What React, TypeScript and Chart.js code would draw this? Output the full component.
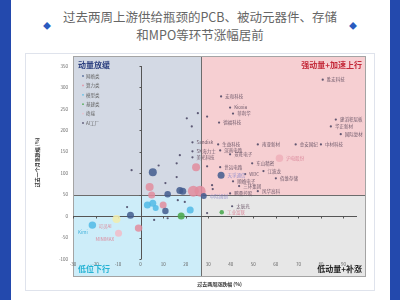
import { useEffect, useRef } from "react";
import { Chart, registerables } from "chart.js";

Chart.register(...registerables);

const FONT = "'Noto Sans CJK SC', 'Noto Sans', sans-serif";

const TITLE_LINES = ["过去两周上游供给瓶颈的PCB、被动元器件、存储", "和MPO等环节涨幅居前"];
const X_TITLE = "过去两周涨跌幅 (%)";
const Y_TITLE = "过去一个月涨跌幅 (%)";
const X_MIN = -30;
const X_MAX = 100;
const Y_MIN = -100;
const Y_MAX = 350;
const X_STEP = 10;
const Y_STEP = 50;
const X_SPLIT = 27;
const Y_SPLIT = 50;
const QUADRANT_LABELS = ["动量放缓", "强动量+加速上行", "低位下行", "低动量+补涨"];
const SERIES_NAMES = ["网络类", "算力类", "模型类", "基建类", "终端", "AI工厂"];

// [name, 2-week change %, 1-month change %, weight]
type Pt = [string, number, number, number];

const networkPts: Pt[] = [
  ["", 5.4, 102, 64],
  ["", 17.4, 60, 49],
  ["", 18.7, 58, 49],
  ["", 12, 51, 42],
  ["中际旭创", 28, 47, 36],
  ["", -4.5, 2, 49],
  ["", 11, 12, 42],
  ["天孚通信", 35.7, 95, 49],
];

const computePts: Pt[] = [
  ["", 23.4, 58, 121],
  ["", 26.4, 58, 121],
  ["", 4, 68, 64],
  ["", 4.9, 49, 49],
  ["", 24.6, 114, 64],
  ["", 10, 26, 49],
  ["", -0.9, -28, 56],
];

const modelPts: Pt[] = [
  ["Kimi", -21.4, -21, 56],
  ["", 3, 26, 49],
  ["", 5.4, 30, 49],
  ["", 6.7, 19, 36],
  ["", 22, 14, 49],
];

const infraPts: Pt[] = [
  ["", 18, 0, 49],
  ["工业富联", 36, 9, 20],
];

const devicePts: Pt[] = [
  ["MINIMAX", -9.8, -40, 49],
  ["沪电股份", 61.6, 135, 56],
  ["可灵AI", -10.7, -7, 64],
];

const factoryPts: Pt[] = [
  ["胜宏科技", 80.8, 318, 5],
  ["宏和科技", 35.7, 279, 5],
  ["Kioxia", 39.7, 253, 5],
  ["菲利华", 41, 239, 5],
  ["德福科技", 34.8, 218, 5],
  ["建滔积层板", 86.6, 225, 5],
  ["华正新材", 84.4, 209, 5],
  ["国际复材", 88.8, 191, 5],
  ["生益科技", 34.4, 167, 5],
  ["南亚新材", 52, 167, 5],
  ["金安国纪", 68.8, 167, 5],
  ["中材科技", 80, 167, 5],
  ["深南电路", 35.3, 153, 5],
  ["景旺电子", 39.7, 144, 5],
  ["世运电路", 35.3, 114, 5],
  ["东山精密", 49.5, 123, 5],
  ["WDC", 46.4, 98, 5],
  ["江波龙", 54.5, 105, 5],
  ["佰维存储", 60, 88, 5],
  ["顺络电子", 41, 81, 5],
  ["三环集团", 43.7, 70, 5],
  ["鹏鼎控股", 39.7, 53, 5],
  ["风华高科", 52, 58, 5],
  ["太辰光", 40.6, 23, 5],
  ["Sandisk", 23, 172, 5],
  ["SK海力士", 23, 151, 5],
  ["美光科技", 23, 137, 5],
  ["", 20.5, 228, 5],
  ["", 25.4, 240, 5],
  ["", 22.7, 209, 5],
  ["", -4, 107, 5],
  ["", 16, 123, 5],
  ["", 17.4, 142, 5],
  ["", 16, 91, 5],
  ["", 11, 77, 5],
  ["", 8, 118, 5],
  ["", 16.5, 37, 5],
  ["", 29.5, 232, 5],
  ["", 29.5, 116, 5],
  ["", 29.5, 7, 5],
  ["", 31.7, 72, 5],
  ["", 32, 63, 5],
  ["", -6, 21, 5],
  ["", 6, -9, 5],
  ["", 19.6, 33, 5],
  ["", 12, -5, 5],
];

const LEFT_LABELS = new Set(["MINIMAX", "可灵AI", "Kimi"]);

const radius = (w: number) => Math.sqrt(w) / 2;

const SERIES = [
  { pts: networkPts, fill: "rgba(66,92,142,0.85)", text: "#9a93cc" },
  { pts: computePts, fill: "rgba(226,140,158,0.85)", text: "#dc8a9c" },
  { pts: modelPts, fill: "rgba(80,186,230,0.85)", text: "#3fb0d9" },
  { pts: infraPts, fill: "rgba(76,168,80,0.9)", text: "#dc8a9c" },
  { pts: devicePts, fill: ["rgba(240,190,202,0.9)", "rgba(240,176,186,0.9)", "rgba(240,236,176,0.9)"], text: "#dc8a9c" },
  { pts: factoryPts, fill: "rgba(70,66,96,0.85)", text: "#6f5a6b" },
];

const quadrantPlugin = {
  id: "quadrants",
  beforeDraw(chart: any) {
    const { ctx, chartArea: a, scales } = chart;
    const x = scales.x;
    const y = scales.y;
    const top = a.top - 10;
    const bottom = a.bottom + 18;
    const left = a.left;
    const right = a.right;
    const sx = Math.round(x.getPixelForValue(X_SPLIT)) + 0.5;
    const sy = Math.round(y.getPixelForValue(Y_SPLIT)) + 0.5;
    ctx.save();
    ctx.fillStyle = "#d3d9e4";
    ctx.fillRect(left, top, sx - left, sy - top);
    ctx.fillStyle = "#f6cfd2";
    ctx.fillRect(sx, top, right - sx, sy - top);
    ctx.fillStyle = "#cdedf9";
    ctx.fillRect(left, sy, sx - left, bottom - sy);
    ctx.fillStyle = "#e7e7e7";
    ctx.fillRect(sx, sy, right - sx, bottom - sy);
    ctx.strokeStyle = "#6c6c6c";
    ctx.lineWidth = 1;
    ctx.beginPath();
    ctx.moveTo(left, sy);
    ctx.lineTo(right, sy);
    ctx.moveTo(sx, top);
    ctx.lineTo(sx, bottom);
    ctx.stroke();
    ctx.strokeStyle = "#a4a4a4";
    ctx.strokeRect(left + 0.5, top + 0.5, right - left - 1, bottom - top - 1);
    ctx.restore();
  },
  beforeDatasetsDraw(chart: any) {
    const { ctx, chartArea: a, scales } = chart;
    const x = scales.x;
    const y = scales.y;
    const x0 = Math.round(x.getPixelForValue(0)) + 0.5;
    const y0 = Math.round(y.getPixelForValue(0)) + 0.5;
    ctx.save();
    ctx.strokeStyle = "#555";
    ctx.lineWidth = 1;
    ctx.beginPath();
    ctx.moveTo(x0, y.getPixelForValue(Y_MAX));
    ctx.lineTo(x0, y.getPixelForValue(Y_MIN));
    ctx.moveTo(a.left, y0);
    ctx.lineTo(a.right - 9, y0);
    for (let v = Y_MIN; v <= Y_MAX; v += Y_STEP) {
      const py = Math.round(y.getPixelForValue(v)) + 0.5;
      ctx.moveTo(x0 - 2, py);
      ctx.lineTo(x0, py);
    }
    for (let v = X_MIN; v < X_MAX; v += X_STEP) {
      const px = Math.round(x.getPixelForValue(v)) + 0.5;
      ctx.moveTo(px, y0);
      ctx.lineTo(px, y0 + 2);
    }
    ctx.stroke();
    ctx.restore();
  },
  afterDatasetsDraw(chart: any) {
    const { ctx } = chart;
    ctx.save();
    ctx.font = `4.5px ${FONT}`;
    ctx.textBaseline = "middle";
    chart.data.datasets.forEach((ds: any, i: number) => {
      const meta = chart.getDatasetMeta(i);
      ds.data.forEach((d: any, j: number) => {
        const name = ds.names[j];
        if (!name) return;
        const el = meta.data[j];
        const r = d.r;
        ctx.fillStyle = ds.labelColor;
        if (LEFT_LABELS.has(name)) {
          ctx.textAlign = "right";
          ctx.fillText(name, el.x - r - 1, el.y + r + 3);
        } else {
          ctx.textAlign = "left";
          ctx.fillText(name, el.x + r + 3, el.y);
        }
      });
    });
    ctx.restore();
  },
  afterDraw(chart: any) {
    const { ctx, chartArea: a } = chart;
    const top = a.top - 10;
    const bottom = a.bottom + 18;
    ctx.save();
    ctx.font = `bold 8px ${FONT}`;
    ctx.textBaseline = "middle";
    ctx.textAlign = "left";
    ctx.fillStyle = "#2b3f7f";
    ctx.fillText(QUADRANT_LABELS[0], a.left + 5, top + 9);
    ctx.textAlign = "right";
    ctx.fillStyle = "#c42a3a";
    ctx.fillText(QUADRANT_LABELS[1], a.right - 4, top + 9);
    ctx.textAlign = "left";
    ctx.fillStyle = "#26b3d4";
    ctx.fillText(QUADRANT_LABELS[2], a.left + 5, bottom - 8);
    ctx.textAlign = "right";
    ctx.fillStyle = "#222";
    ctx.fillText(QUADRANT_LABELS[3], a.right - 4, bottom - 8);

    // series key in the upper-left quadrant
    ctx.font = `4.5px ${FONT}`;
    ctx.textAlign = "left";
    chart.data.datasets.forEach((ds: any, i: number) => {
      const ly = a.top + 10 + i * 9.4;
      const c = Array.isArray(ds.backgroundColor) ? ds.backgroundColor[0] : ds.backgroundColor;
      ctx.fillStyle = c;
      ctx.beginPath();
      ctx.arc(a.left + 10, ly, 0.9, 0, Math.PI * 2);
      ctx.fill();
      ctx.fillStyle = "#666";
      ctx.fillText(ds.label, a.left + 13, ly);
    });
    ctx.restore();
  },
};

export default function App() {
  const ref = useRef<HTMLCanvasElement>(null);

  useEffect(() => {
    if (!ref.current) return;
    const chart = new Chart(ref.current, {
      type: "bubble",
      data: {
        datasets: SERIES.map((s, i) => ({
          label: SERIES_NAMES[i],
          names: s.pts.map((p) => p[0]),
          labelColor: s.text,
          data: s.pts.map((p) => ({ x: p[1], y: p[2], r: radius(p[3]) })),
          backgroundColor: s.fill,
          borderWidth: 0,
        })) as any,
      },
      options: {
        responsive: false,
        devicePixelRatio: 1,
        animation: false,
        layout: { padding: { top: 12, right: 8, left: 0, bottom: 0 } },
        plugins: { legend: { display: false }, tooltip: { enabled: false } },
        scales: {
          x: {
            type: "linear",
            min: X_MIN,
            max: X_MAX,
            afterFit: (s: any) => {
              s.height = 31;
            },
            grid: { display: false, drawTicks: false },
            border: { display: false },
            ticks: {
              stepSize: X_STEP,
              padding: 3,
              color: "#666",
              font: { size: 4.5, family: FONT },
              callback: (v: any) => (v === X_MAX ? "" : String(v)),
            },
            title: {
              display: true,
              text: X_TITLE,
              color: "#333",
              font: { size: 5, weight: "bold", family: FONT },
              padding: { top: 0, bottom: 3 },
            },
          },
          y: {
            type: "linear",
            min: Y_MIN,
            max: Y_MAX,
            afterFit: (s: any) => {
              s.width = 47;
            },
            grid: { display: false, drawTicks: false },
            border: { display: false },
            ticks: {
              stepSize: Y_STEP,
              padding: 5,
              color: "#666",
              font: { size: 4.5, family: FONT },
            },
            title: {
              display: true,
              text: Y_TITLE,
              color: "#333",
              font: { size: 5, weight: "bold", family: FONT },
              padding: { top: 8, bottom: 0 },
            },
          },
        },
      },
      plugins: [quadrantPlugin],
    } as any);
    return () => chart.destroy();
  }, []);

  const icon = (left: number) => (
    <div
      style={{
        position: "absolute",
        left: left - 4,
        top: 22,
        width: 8,
        height: 8,
        color: "#2a5bbf",
        fontSize: 8,
        lineHeight: "8px",
        textAlign: "center",
      }}
    >
      ◆
    </div>
  );

  return (
    <div
      style={{
        position: "fixed",
        left: 0,
        top: 0,
        width: 400,
        height: 300,
        background: "#fff",
        overflow: "hidden",
        fontFamily: FONT,
      }}
    >
      <div style={{ position: "absolute", left: 0, top: 0, width: 11, height: 300, background: "#2349ad" }} />
      <div style={{ position: "absolute", left: 390, top: 0, width: 10, height: 300, background: "#2349ad" }} />
      <div
        style={{
          position: "absolute",
          left: 0,
          top: 8,
          width: 400,
          textAlign: "center",
          fontSize: 12.5,
          lineHeight: "18px",
          color: "#666",
          whiteSpace: "nowrap",
        }}
      >
        {TITLE_LINES.map((l) => (
          <div key={l}>{l}</div>
        ))}
      </div>
      {icon(47)}
      {icon(353)}
      <div
        style={{
          position: "absolute",
          left: 25,
          top: 53,
          width: 348,
          height: 236,
          border: "1px solid #dfe3ec",
        }}
      >
        <canvas ref={ref} width={348} height={236} style={{ display: "block" }} />
      </div>
    </div>
  );
}
